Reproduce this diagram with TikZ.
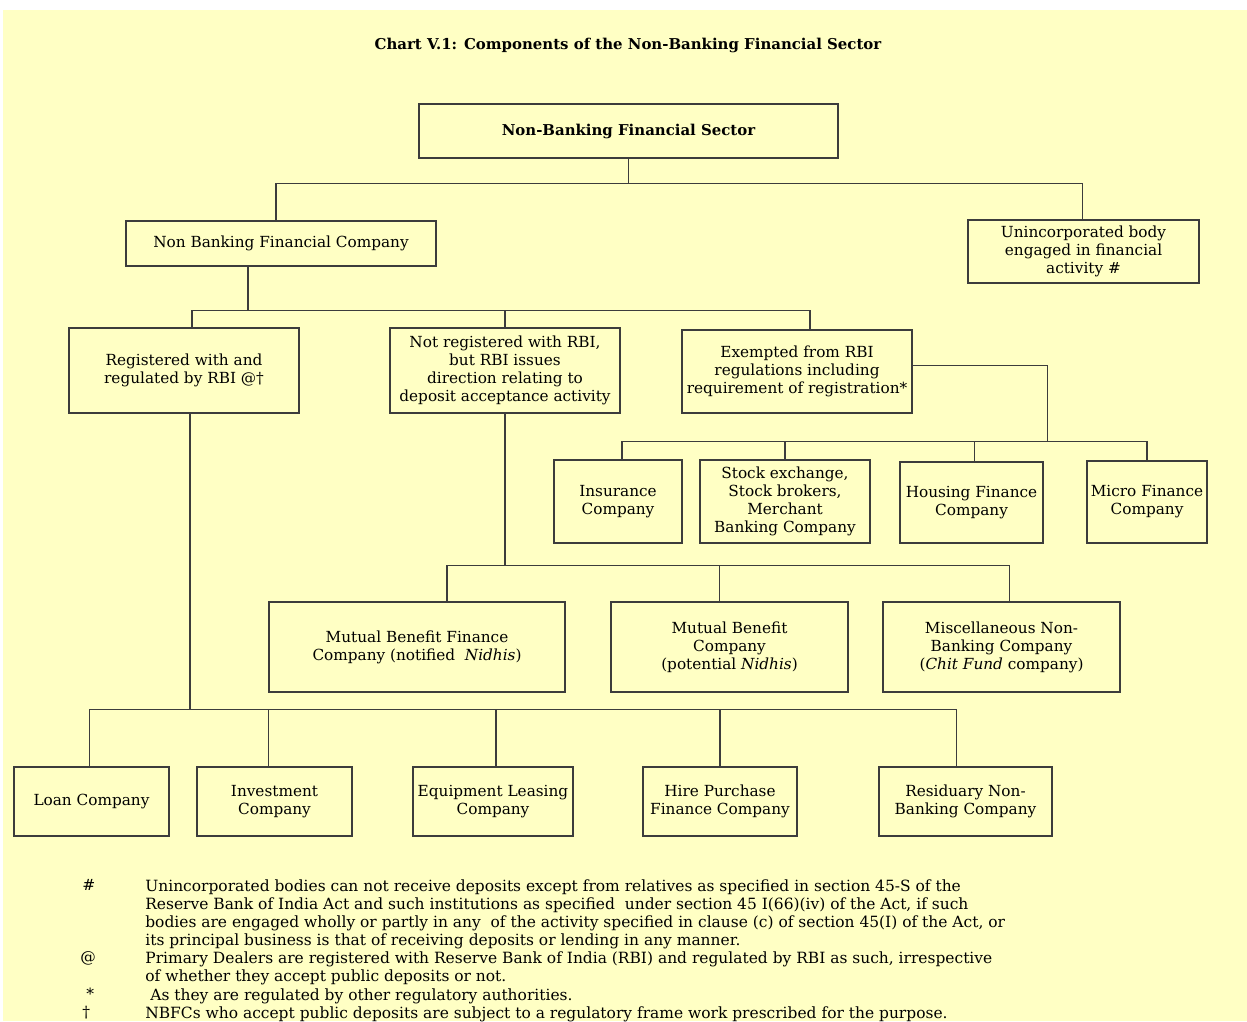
\documentclass[tikz,border=0pt]{standalone}
\usepackage{fontspec}
\setmainfont{DejaVu Serif}
\usepackage{tikz}
\usetikzlibrary{calc}
\definecolor{chartbg}{RGB}{255,255,196}
\definecolor{chartline}{RGB}{60,60,60}
\tikzset{
	orgbox/.style={draw=chartline, line width=0.7pt, align=center, inner sep=1pt,
		font=\fontsize{8.7}{10.3}\selectfont},
	link/.style={draw=chartline, line width=0.9pt},
	fnote/.style={anchor=north west, inner sep=0pt, align=left,
		font=\fontsize{8.8}{10.24}\selectfont}
}

\begin{document}
\begin{tikzpicture}[x=0.02cm, y=-0.02cm]
		%%%%% START %%%%%
		
		\useasboundingbox (0, 0) rectangle (1247, 1021);
		\fill[white] (0, 0) rectangle (1247, 1021);
		\fill[chartbg] (3, 10) rectangle (1247, 1021);
		
		\node[font=\bfseries\fontsize{8.5}{10}\selectfont] (title) at (628, 45) {Chart V.1: Components of the Non-Banking Financial Sector};
		
		% top of the tree
		\node[orgbox, font=\bfseries\fontsize{8.5}{10}\selectfont, minimum width=8.38cm, minimum height=1.08cm] (sector) at (628.5, 131) {Non-Banking Financial Sector};
		\node[orgbox, minimum width=6.2cm, minimum height=0.9cm] (nbfc) at (281, 243.5) {Non Banking Financial Company};
		\node[orgbox, line width=1.4pt, minimum width=4.62cm, minimum height=1.26cm] (uninc) at (1083.5, 251.5) {Unincorporated body\\engaged in financial\\activity \#};
		
		\draw[link] (sector.south) -- ++(0, 25) coordinate (busa);
		\draw[link] ($(nbfc.north)+(-5, 0)$) |- (busa) -| ($(uninc.north)+(-1, 0)$);
		
		% second level
		\node[orgbox, minimum width=4.6cm, minimum height=1.7cm] (reg) at (184, 370.5) {Registered with and\\regulated by RBI @\textdagger};
		\node[orgbox, minimum width=4.6cm, minimum height=1.7cm] (notreg) at (505, 370.5) {Not registered with RBI,\\but RBI issues\\direction relating to\\deposit acceptance activity};
		\node[orgbox, minimum width=4.6cm, minimum height=1.66cm] (exempt) at (797, 371.5) {Exempted from RBI\\regulations including\\requirement of registration*};
		
		\draw[link] ($(nbfc.south)+(-33, 0)$) -- ++(0, 44) coordinate (busb);
		\draw[link] ($(reg.north)+(8, 0)$) |- (busb) -| ($(exempt.north)+(13, 0)$);
		\draw[link] (notreg.north) -- (notreg.north |- busb);
		
		% exempted entities
		\node[orgbox, minimum width=2.56cm, minimum height=1.66cm] (insur) at (618, 501.5) {Insurance\\Company};
		\node[orgbox, minimum width=3.4cm, minimum height=1.66cm] (stock) at (785, 501.5) {Stock exchange,\\Stock brokers,\\Merchant\\Banking Company};
		\node[orgbox, minimum width=2.86cm, minimum height=1.62cm] (housing) at (971.5, 502.5) {Housing Finance\\Company};
		\node[orgbox, minimum width=2.4cm, minimum height=1.64cm] (micro) at (1147, 502) {Micro Finance\\Company};
		
		\draw[link] ($(exempt.east)+(0, -6)$) -- ++(135, 0) -- ++(0, 76) coordinate (busc);
		\draw[link] ($(insur.north)+(4, 0)$) |- (busc) -| (micro.north);
		\draw[link] (stock.north) -- (stock.north |- busc);
		\draw[link] ($(housing.north)+(3, 0)$) -- ($(housing.north |- busc)+(3, 0)$);
		
		% not registered entities
		\node[orgbox, minimum width=5.92cm, minimum height=1.8cm] (mbfc) at (417, 647) {Mutual Benefit Finance\\Company (notified \ \textit{Nidhis})};
		\node[orgbox, minimum width=4.74cm, minimum height=1.8cm] (mbc) at (729.5, 647) {Mutual Benefit\\Company\\(potential \textit{Nidhis})};
		\node[orgbox, minimum width=4.74cm, minimum height=1.8cm] (misc) at (1001.5, 647) {Miscellaneous Non-\\Banking Company\\(\textit{Chit Fund} company)};
		
		\draw[link] (notreg.south) -- ++(0, 152) coordinate (busd);
		\draw[link] ($(mbfc.north)+(30, 0)$) |- (busd) -| ($(misc.north)+(8, 0)$);
		\draw[link] ($(mbc.north)+(-10, 0)$) -- ($(mbc.north |- busd)+(-10, 0)$);
		
		% registered entities
		\node[orgbox, minimum width=3.1cm, minimum height=1.38cm] (loan) at (91.5, 801.5) {Loan Company};
		\node[orgbox, minimum width=3.1cm, minimum height=1.38cm] (invest) at (274.5, 801.5) {Investment\\Company};
		\node[orgbox, minimum width=3.2cm, minimum height=1.38cm] (equip) at (493, 801.5) {Equipment Leasing\\Company};
		\node[orgbox, minimum width=3.08cm, minimum height=1.38cm] (hire) at (720, 801.5) {Hire Purchase\\Finance Company};
		\node[orgbox, minimum width=3.46cm, minimum height=1.38cm] (resid) at (965.5, 801.5) {Residuary Non-\\Banking Company};
		
		\draw[link] ($(reg.south)+(6, 0)$) -- ++(0, 296) coordinate (buse);
		\draw[link] ($(loan.north)+(-2, 0)$) |- (buse) -| ($(resid.north)+(-9, 0)$);
		\draw[link] ($(invest.north)+(-6, 0)$) -- ($(invest.north |- buse)+(-6, 0)$);
		\draw[link] ($(equip.north)+(3, 0)$) -- ($(equip.north |- buse)+(3, 0)$);
		\draw[link] (hire.north) -- (hire.north |- buse);
		
		% footnotes
		\node[fnote] (hashmark) at (82, 879) {\#};
		\node[fnote] (hashtext) at (145, 879) {Unincorporated bodies can not receive deposits except from relatives as specified in section 45-S of the\\Reserve Bank of India Act and such institutions as specified \ under section 45 I(66)(iv) of the Act, if such\\bodies are engaged wholly or partly in any \ of the activity specified in clause (c) of section 45(I) of the Act, or\\its principal business is that of receiving deposits or lending in any manner.};
		\node[fnote] (atmark) at (80, 951) {@};
		\node[fnote] (attext) at (145, 951) {Primary Dealers are registered with Reserve Bank of India (RBI) and regulated by RBI as such, irrespective\\of whether they accept public deposits or not.};
		\node[fnote] (starmark) at (86, 988) {*};
		\node[fnote] (startext) at (150, 988) {As they are regulated by other regulatory authorities.};
		\node[fnote] (dagmark) at (82, 1006) {\textdagger};
		\node[fnote] (dagtext) at (145, 1006) {NBFCs who accept public deposits are subject to a regulatory frame work prescribed for the purpose.};
		
		%%%%% END %%%%%
	\end{tikzpicture}
\end{document}
